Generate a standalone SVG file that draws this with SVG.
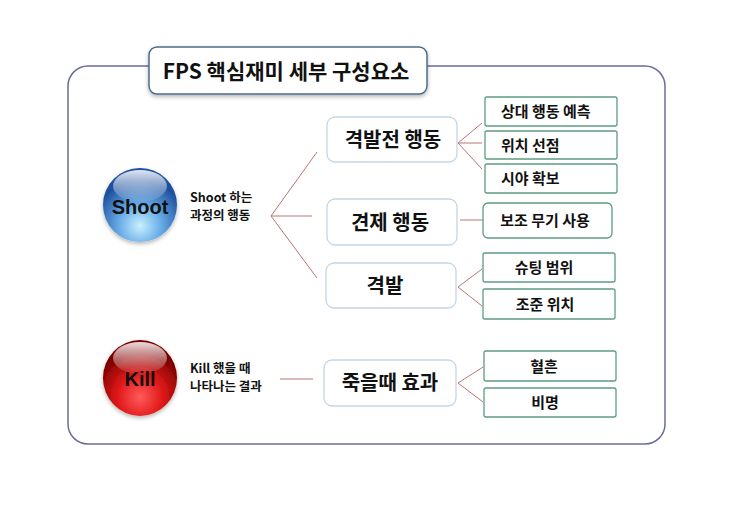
<svg xmlns="http://www.w3.org/2000/svg" width="740" height="510" viewBox="0 0 740 510">
<defs>
<style>
text{font-family:"Noto Sans CJK KR","Liberation Sans",sans-serif;font-weight:bold;fill:#111;}
.mid rect{fill:#fff;stroke:#c3d6e6;stroke-width:1.3;}
.leaf rect{fill:#fff;stroke:#5e9c82;stroke-width:1.3;}
.mid text{font-size:20px;text-anchor:middle;}
.leaf text{font-size:15px;text-anchor:middle;}
.leaf text.st{text-anchor:start;}
.lbl{font-size:12.5px;}
#connectors path{fill:none;stroke:#bb7474;stroke-width:1;}
</style>
<radialGradient id="gBlue" cx="0.5" cy="0.78" r="0.62">
<stop offset="0" stop-color="#c8f0ff"/>
<stop offset="0.45" stop-color="#6aaee8"/>
<stop offset="1" stop-color="#1d4f9e"/>
</radialGradient>
<radialGradient id="gRed" cx="0.5" cy="0.75" r="0.62">
<stop offset="0" stop-color="#ff5a5a"/>
<stop offset="0.5" stop-color="#e01818"/>
<stop offset="1" stop-color="#7a0000"/>
</radialGradient>
<linearGradient id="gHi" x1="0" y1="0" x2="0" y2="1">
<stop offset="0" stop-color="#fff" stop-opacity="0.85"/>
<stop offset="1" stop-color="#fff" stop-opacity="0.05"/>
</linearGradient>
<filter id="sh" x="-20%" y="-20%" width="140%" height="150%">
<feGaussianBlur in="SourceAlpha" stdDeviation="2"/>
<feOffset dx="0" dy="2" result="b"/>
<feComponentTransfer><feFuncA type="linear" slope="0.3"/></feComponentTransfer>
<feMerge><feMergeNode/><feMergeNode in="SourceGraphic"/></feMerge>
</filter>
</defs>
<rect width="740" height="510" fill="#fff"/>
<g id="frame">
<rect x="68" y="66" width="597" height="378" rx="20" fill="none" stroke="#6c6c9c" stroke-width="1.5"/>
</g>
<g id="title">
<rect x="149" y="47" width="278" height="47" rx="8" fill="#fff" stroke="#4c6c8c" stroke-width="1.5" filter="url(#sh)"/>
<text x="286" y="79" font-size="21" text-anchor="middle">FPS 핵심재미 세부 구성요소</text>
</g>
<g id="connectors">
<path d="M317 152 L271 216 L317 278 M271 216 H312"/>
<path d="M482 123 L458 143 L482 169 M458 143 H482"/>
<path d="M460 220 H483"/>
<path d="M482 269 L458 287 L482 306"/>
<path d="M280 379 H313"/>
<path d="M483 367 L458 383 L483 402"/>
</g>
<g id="shoot">
<circle cx="140" cy="205" r="37" fill="url(#gBlue)" filter="url(#sh)"/>
<ellipse cx="140" cy="186" rx="27" ry="16" fill="url(#gHi)"/>
<text x="140" y="214" font-size="20" text-anchor="middle" fill="#0f1e3a" style="font-family:'Liberation Sans',sans-serif">Shoot</text>
</g>
<g id="shoot-label">
<text class="lbl" x="190" y="202">Shoot 하는</text>
<text class="lbl" x="190" y="220">과정의 행동</text>
</g>
<g id="kill">
<ellipse cx="140" cy="378" rx="37" ry="38" fill="url(#gRed)" filter="url(#sh)"/>
<ellipse cx="140" cy="358" rx="27" ry="16" fill="url(#gHi)"/>
<text x="140" y="386" font-size="20" text-anchor="middle" fill="#1a0505" style="font-family:'Liberation Sans',sans-serif">Kill</text>
</g>
<g id="kill-label">
<text class="lbl" x="190" y="373">Kill 했을 때</text>
<text class="lbl" x="190" y="391">나타나는 결과</text>
</g>
<g id="m1" class="mid"><rect x="327" y="117" width="130" height="45" rx="8"/><text x="393" y="147">격발전 행동</text></g>
<g id="m2" class="mid"><rect x="327" y="199" width="130" height="46" rx="8"/><text x="390" y="230">견제 행동</text></g>
<g id="m3" class="mid"><rect x="326" y="263" width="130" height="45" rx="8"/><text x="385" y="293">격발</text></g>
<g id="m4" class="mid"><rect x="324" y="360" width="132" height="46" rx="8"/><text x="390" y="390">죽을때 효과</text></g>
<g id="l1" class="leaf"><rect x="485" y="97" width="132" height="29" rx="2"/><text class="st" x="501" y="117">상대 행동 예측</text></g>
<g id="l2" class="leaf"><rect x="485" y="131" width="132" height="28" rx="2"/><text class="st" x="501" y="151">위치 선점</text></g>
<g id="l3" class="leaf"><rect x="485" y="164" width="132" height="29" rx="2"/><text class="st" x="501" y="184">시야 확보</text></g>
<g id="l4" class="leaf"><rect x="483" y="203" width="129" height="35" rx="5"/><text x="545" y="226">보조 무기 사용</text></g>
<g id="l5" class="leaf"><rect x="483" y="253" width="132" height="29" rx="2"/><text x="544" y="273">슈팅 범위</text></g>
<g id="l6" class="leaf"><rect x="483" y="289" width="132" height="30" rx="2"/><text x="545" y="310">조준 위치</text></g>
<g id="l7" class="leaf"><rect x="484" y="351" width="132" height="30" rx="2"/><text x="544" y="372">혈흔</text></g>
<g id="l8" class="leaf"><rect x="484" y="388" width="132" height="29" rx="2"/><text x="545" y="408">비명</text></g>
</svg>
